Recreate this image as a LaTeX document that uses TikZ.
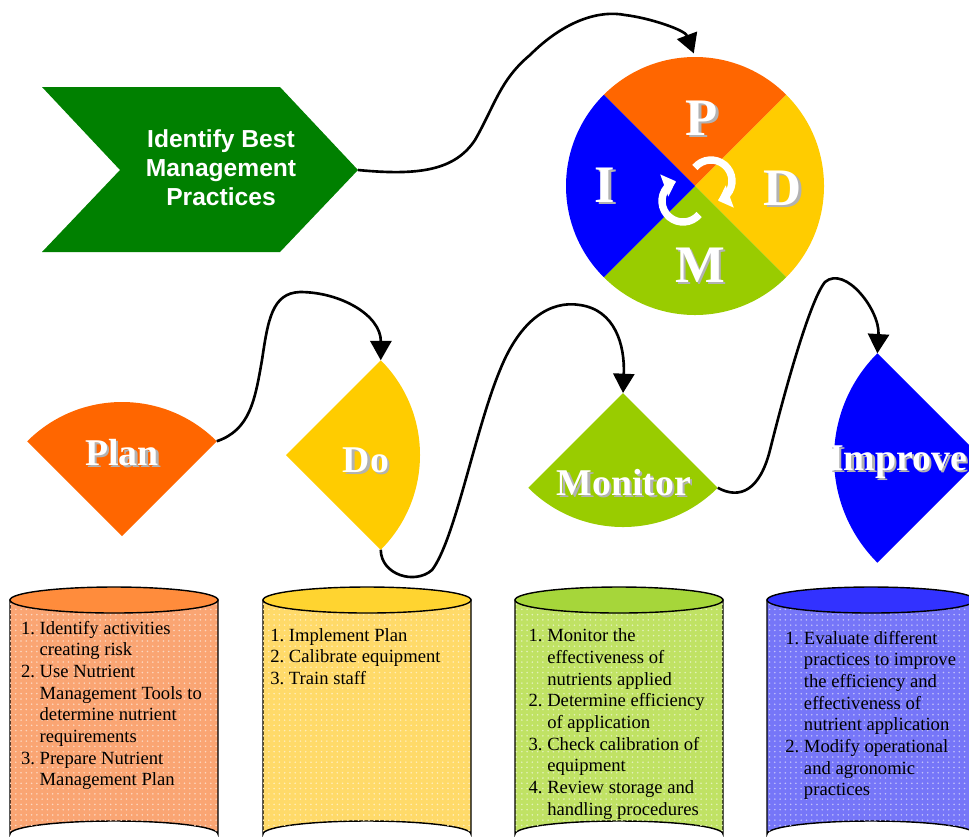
\documentclass[tikz,border=0pt]{standalone}
\usepackage{fontspec}
\setmainfont{Liberation Serif}
\newfontfamily\headfont{Liberation Sans}
\usetikzlibrary{arrows.meta,patterns}
\definecolor{bmpgreen}{RGB}{0,128,0}
\definecolor{porange}{RGB}{255,102,0}
\definecolor{dyellow}{RGB}{255,204,0}
\definecolor{mgreen}{RGB}{153,204,0}
\definecolor{iblue}{RGB}{0,0,255}
\definecolor{planbody}{RGB}{250,165,115}
\definecolor{plantop}{RGB}{255,140,60}
\definecolor{dobody}{RGB}{255,218,105}
\definecolor{dotop}{RGB}{255,212,48}
\definecolor{monbody}{RGB}{192,226,100}
\definecolor{montop}{RGB}{166,214,58}
\definecolor{impbody}{RGB}{118,118,248}
\definecolor{imptop}{RGB}{50,50,255}

\newcommand{\embossed}[1]{\makebox[0pt][l]{\hspace{1.3pt}\raisebox{-1.3pt}{\color{black!30}#1}}{\color{white}#1}}

\tikzset{
  flow/.style={-{Triangle[length=11pt,width=12pt]}, line width=1.5pt},
  cycarrow/.style={-{Triangle[length=7pt,width=13pt]}, white, line width=4.2pt},
  steplabel/.style={font=\bfseries\fontsize{21.5}{24}\selectfont, anchor=base, inner sep=0pt},
  pdmiletter/.style={font=\bfseries\fontsize{30}{30}\selectfont, anchor=base, inner sep=0pt},
  tasklist/.style={font=\fontsize{10.6}{12.35}\selectfont, anchor=base west, inner sep=0pt},
  can/.style={draw=black, line width=0.8pt},
}

\begin{document}
\begin{tikzpicture}[x=0.02cm, y=-0.02cm]
    \useasboundingbox (0,0) rectangle (969,836);

    % best management practices
    \fill[bmpgreen] (42,87) -- (280,87) -- (358,170) -- (280,252) -- (42,252) -- (120,170) -- cycle;
    \coordinate (bmptip) at (358,170);
    \node[white, align=center, font=\headfont\bfseries\fontsize{14}{16.5}\selectfont] (bmp) at (221,168) {Identify Best\\Management\\Practices};

    % PDMI wheel
    \node[circle, minimum size=5.16cm, inner sep=0pt] (pdmi) at (695,186) {};
    \fill[porange] (pdmi.center) -- ++(-45:129) arc[start angle=-45, end angle=-135, radius=129] -- cycle;
    \fill[dyellow] (pdmi.center) -- ++(45:129) arc[start angle=45, end angle=-45, radius=129] -- cycle;
    \fill[mgreen] (pdmi.center) -- ++(135:129) arc[start angle=135, end angle=45, radius=129] -- cycle;
    \fill[iblue] (pdmi.center) -- ++(-135:129) arc[start angle=-135, end angle=-225, radius=129] -- cycle;
    \node[pdmiletter] (pletter) at (702,135) {\embossed{P}};
    \node[pdmiletter] (dletter) at (783,205) {\embossed{D}};
    \node[pdmiletter] (mletter) at (700,282) {\embossed{M}};
    \node[pdmiletter] (iletter) at (605,202) {\embossed{I}};
    \coordinate (cycup) at (711,181);
    \coordinate (cyclow) at (683,201);
    \draw[cycarrow] (cycup) ++(-140:21) arc[start angle=-140, end angle=70, radius=21];
    \draw[cycarrow] (cyclow) ++(40:21) arc[start angle=40, end angle=250, radius=21];

    % steps
    \coordinate (planapex) at (122,536);
    \coordinate (doapex) at (286,455);
    \coordinate (monapex) at (623,393);
    \coordinate (impapex) at (982,458);
    \fill[porange] (planapex) -- ++(-45:134) coordinate (planR) arc[start angle=-45, end angle=-135, radius=134] -- cycle;
    \fill[dyellow] (doapex) -- ++(45:134) coordinate (doB) arc[start angle=45, end angle=-45, radius=134] coordinate (doT) -- cycle;
    \fill[mgreen] (monapex) -- ++(135:134) arc[start angle=135, end angle=45, radius=134] coordinate (monR) -- cycle;
    \fill[iblue] (impapex) -- ++(-135:148) coordinate (impT) arc[start angle=-135, end angle=-225, radius=148] -- cycle;
    \node[steplabel] (plan) at (122,465) {\embossed{Plan}};
    \node[steplabel] (do) at (366,472) {\embossed{Do}};
    \node[steplabel] (monitor) at (624,495) {\embossed{Monitor}};
    \node[steplabel] (improve) at (898,470) {\embossed{Improve}};

    % connectors
    \draw[flow, shorten >=2pt] (bmptip) .. controls (420,176) and (455,170) .. (475,140) .. controls (495,105) and (500,80) .. (530,55) .. controls (565,20) and (600,10) .. (625,15) .. controls (650,18) and (685,30) .. (pdmi.north);
    \draw[flow] (planR) .. controls (250,430) and (255,400) .. (262,360) .. controls (268,320) and (272,293) .. (300,292) .. controls (340,292) and (381,315) .. (doT);
    \draw[flow] (doB) .. controls (381,575) and (415,585) .. (432,570) .. controls (455,540) and (475,430) .. (500,370) .. controls (520,320) and (550,300) .. (580,305) .. controls (615,310) and (625,345) .. (monapex);
    \draw[flow] (monR) .. controls (740,500) and (760,490) .. (770,450) .. controls (785,390) and (810,300) .. (825,282) .. controls (845,265) and (880,310) .. (impT);

    % cylinders
    \filldraw[can, fill=planbody, postaction={pattern=dots, pattern color=white!55!planbody}] (10,600) -- (10,834) arc[start angle=180, end angle=360, x radius=104, y radius=13] -- (218,600) -- cycle;
    \filldraw[can, fill=plantop] (114,600) ellipse[x radius=104, y radius=13];
    \filldraw[can, fill=dobody, postaction={pattern=dots, pattern color=white!55!dobody}] (263,600) -- (263,834) arc[start angle=180, end angle=360, x radius=104, y radius=13] -- (471,600) -- cycle;
    \filldraw[can, fill=dotop] (367,600) ellipse[x radius=104, y radius=13];
    \filldraw[can, fill=monbody, postaction={pattern=dots, pattern color=white!55!monbody}] (515,600) -- (515,834) arc[start angle=180, end angle=360, x radius=104, y radius=13] -- (723,600) -- cycle;
    \filldraw[can, fill=montop] (619,600) ellipse[x radius=104, y radius=13];
    \filldraw[can, fill=impbody, postaction={pattern=dots, pattern color=white!55!impbody}] (767,600) -- (767,834) arc[start angle=180, end angle=360, x radius=104, y radius=13] -- (975,600) -- cycle;
    \filldraw[can, fill=imptop] (871,600) ellipse[x radius=104, y radius=13];

    \node[tasklist] (plantasks) at (20.7,634) {\begin{tabular}[t]{@{}l@{\ }l@{}}1. & Identify activities\\ & creating risk\\ 2. & Use Nutrient\\ & Management Tools to\\ & determine nutrient\\ & requirements\\ 3. & Prepare Nutrient\\ & Management Plan\end{tabular}};
    \node[tasklist] (dotasks) at (270,641) {\begin{tabular}[t]{@{}l@{\ }l@{}}1. & Implement Plan\\ 2. & Calibrate equipment\\ 3. & Train staff\end{tabular}};
    \node[tasklist] (montasks) at (528.3,641.7) {\begin{tabular}[t]{@{}l@{\ }l@{}}1. & Monitor the\\ & effectiveness of\\ & nutrients applied\\ 2. & Determine efficiency\\ & of application\\ 3. & Check calibration of\\ & equipment\\ 4. & Review storage and\\ & handling procedures\end{tabular}};
    \node[tasklist] (imptasks) at (785,644) {\begin{tabular}[t]{@{}l@{\ }l@{}}1. & Evaluate different\\ & practices to improve\\ & the efficiency and\\ & effectiveness of\\ & nutrient application\\ 2. & Modify operational\\ & and agronomic\\ & practices\end{tabular}};
\end{tikzpicture}
\end{document}
